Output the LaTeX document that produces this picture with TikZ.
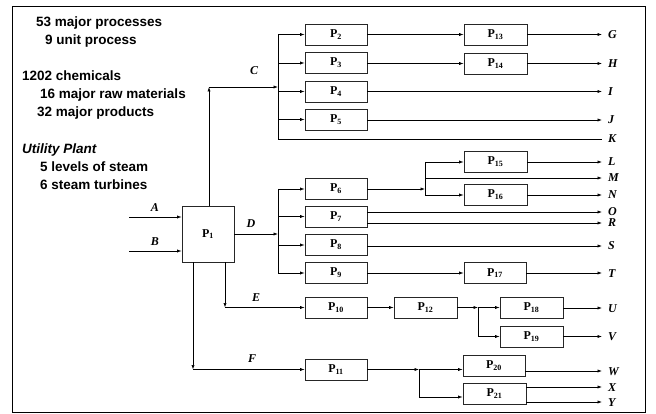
\documentclass[tikz,border=0pt]{standalone}
\usepackage{fontspec}
\setmainfont{Liberation Serif}
\newfontfamily\arialfont{Liberation Sans}
\usetikzlibrary{arrows.meta}
\tikzset{
  pbox/.style={draw=black!85, line width=0.7pt, minimum height=21pt, minimum width=62pt, inner sep=0pt, font=\bfseries\fontsize{12}{12}\selectfont},
  arr/.style={-{Latex[length=4.5pt,width=3.2pt]}, line width=0.7pt},
  ln/.style={line width=0.7pt},
  lab/.style={font=\bfseries\itshape\fontsize{12}{12}\selectfont, inner ysep=0pt, inner xsep=6pt, text height=8pt, text depth=0pt, anchor=west},
  flab/.style={font=\bfseries\itshape\fontsize{12}{12}\selectfont, inner sep=0pt},
  txt/.style={font=\arialfont\bfseries\fontsize{13.5}{14}\selectfont, anchor=west, inner sep=0pt, text height=10pt, text depth=0pt},
}
\begin{document}
\begin{tikzpicture}[x=1pt,y=-1pt]
\useasboundingbox (0,0) rectangle (656,414);
\draw[line width=1pt] (12.5,6.5) rectangle (645,412.5);

% left text
\node[txt] (t1) at (36,22) {53 major processes};
\node[txt] (t2) at (45,40) {9 unit process};
\node[txt] (t3) at (22,76) {1202 chemicals};
\node[txt] (t4) at (40,94) {16 major raw materials};
\node[txt] (t5) at (37,112) {32 major products};
\node[txt, font=\arialfont\bfseries\itshape\fontsize{13.5}{14}\selectfont] (t6) at (22,149) {Utility Plant};
\node[txt] (t7) at (40,167) {5 levels of steam};
\node[txt] (t8) at (40,185) {6 steam turbines};

% boxes
\node[pbox, minimum width=52pt, minimum height=56pt] (p1) at (208,234) {P\textsubscript{1}};
\node[pbox] (p2) at (336,34.5) {P\textsubscript{2}};
\node[pbox] (p3) at (336,63) {P\textsubscript{3}};
\node[pbox] (p4) at (336,91.5) {P\textsubscript{4}};
\node[pbox] (p5) at (336,119.5) {P\textsubscript{5}};
\node[pbox, minimum width=63pt] (p13) at (495.5,34.5) {P\textsubscript{13}};
\node[pbox, minimum width=63pt] (p14) at (495.5,63.5) {P\textsubscript{14}};
\node[pbox] (p6) at (336,189) {P\textsubscript{6}};
\node[pbox] (p7) at (336,216.5) {P\textsubscript{7}};
\node[pbox] (p8) at (336,245) {P\textsubscript{8}};
\node[pbox] (p9) at (336,273) {P\textsubscript{9}};
\node[pbox, minimum width=63pt] (p15) at (495.5,162) {P\textsubscript{15}};
\node[pbox, minimum width=63pt] (p16) at (495.5,195) {P\textsubscript{16}};
\node[pbox] (p17) at (495,273) {P\textsubscript{17}};
\node[pbox] (p10) at (336,307.5) {P\textsubscript{10}};
\node[pbox, minimum width=63pt] (p12) at (425.5,307.5) {P\textsubscript{12}};
\node[pbox, minimum width=63pt] (p18) at (531.5,308) {P\textsubscript{18}};
\node[pbox, minimum width=63pt] (p19) at (531.5,336.5) {P\textsubscript{19}};
\node[pbox] (p11) at (336,369.5) {P\textsubscript{11}};
\node[pbox] (p20) at (494,366) {P\textsubscript{20}};
\node[pbox, minimum width=63pt] (p21) at (494.5,393.5) {P\textsubscript{21}};

% output labels
\node[lab] (G) at (602,34.5) {G};
\node[lab] (H) at (602,63.5) {H};
\node[lab] (I) at (602,91.5) {I};
\node[lab] (J) at (602,120) {J};
\node[lab] (K) at (602,139) {K};
\node[lab] (L) at (602,162) {L};
\node[lab] (M) at (602,178) {M};
\node[lab] (N) at (602,195) {N};
\node[lab] (O) at (602,212) {O};
\node[lab] (R) at (602,223) {R};
\node[lab] (S) at (602,246) {S};
\node[lab] (T) at (602,273) {T};
\node[lab] (U) at (602,308) {U};
\node[lab] (V) at (602,336.5) {V};
\node[lab] (W) at (602,371) {W};
\node[lab] (X) at (602,387) {X};
\node[lab] (Y) at (602,402) {Y};

% stream labels
\node[flab] (lA) at (155,208) {A};
\node[flab] (lB) at (155,242) {B};
\node[flab] (lC) at (254,71) {C};
\node[flab] (lD) at (251,224) {D};
\node[flab] (lE) at (256,298) {E};
\node[flab] (lF) at (252,359) {F};

% inputs
\coordinate (a0) at (129,217);
\coordinate (b0) at (129,251);
\draw[arr] (a0) -- (a0 -| p1.west);
\draw[arr] (b0) -- (b0 -| p1.west);

% C
\coordinate (cc) at (209,87);
\coordinate (cb) at (278,87);
\draw[arr] (cc |- p1.north) -- (cc);
\draw[arr] (cc) -- (cb);
\coordinate (cbt) at (278,34.5);
\coordinate (cbb) at (278,139);
\draw[ln] (cbt) -- (cbb) -- (K.west);
\draw[arr] (cbt) -- (p2.west);
\draw[arr] (p3.west -| cbt) -- (p3.west);
\draw[arr] (p4.west -| cbt) -- (p4.west);
\draw[arr] (p5.west -| cbt) -- (p5.west);
\draw[arr] (p2.east) -- (p13.west);
\draw[arr] (p3.east |- p14.west) -- (p14.west);
\draw[arr] (p13.east) -- (G.west);
\draw[arr] (p14.east) -- (H.west);
\draw[arr] (p4.east) -- (I.west);
\draw[arr] (J.west -| p5.east) -- (J.west);

% D
\coordinate (dj) at (278,234);
\draw[arr] (p1.east) -- (dj);
\draw[ln] (p6.west -| dj) -- (p9.west -| dj);
\draw[arr] (p6.west -| dj) -- (p6.west);
\draw[arr] (p7.west -| dj) -- (p7.west);
\draw[arr] (p8.west -| dj) -- (p8.west);
\draw[arr] (p9.west -| dj) -- (p9.west);
\coordinate (mj) at (425,189);
\draw[arr] (p6.east) -- (mj);
\draw[ln] (p15.west -| mj) -- (p16.west -| mj);
\draw[arr] (p15.west -| mj) -- (p15.west);
\draw[arr] (M.west -| mj) -- (M.west);
\draw[arr] (p16.west -| mj) -- (p16.west);
\draw[arr] (p15.east) -- (L.west);
\draw[arr] (p16.east) -- (N.west);
\draw[arr] (O.west -| p7.east) -- (O.west);
\draw[arr] (R.west -| p7.east) -- (R.west);
\draw[arr] (S.west -| p8.east) -- (S.west);
\draw[arr] (p9.east) -- (p17.west);
\draw[arr] (p17.east) -- (T.west);

% E
\coordinate (ej) at (225,307.5);
\draw[arr] (ej |- p1.south) -- (ej);
\draw[arr] (ej) -- (p10.west);
\draw[arr] (p10.east) -- (p12.west);
\coordinate (uj) at (478,307.5);
\draw[arr] (p12.east) -- (uj);
\draw[arr] (uj) -- (uj -| p18.west);
\draw[ln] (uj) -- (uj |- p19.west);
\draw[arr] (uj |- p19.west) -- (p19.west);
\draw[arr] (p18.east) -- (U.west);
\draw[arr] (p19.east) -- (V.west);

% F
\coordinate (fj) at (193,369.5);
\draw[arr] (fj |- p1.south) -- (fj);
\draw[arr] (fj) -- (p11.west);
\coordinate (wj) at (419,369.5);
\coordinate (xj) at (419,397);
\draw[arr] (p11.east) -- (wj);
\draw[arr] (wj) -- (wj -| p20.west);
\draw[ln] (wj) -- (xj);
\draw[arr] (xj) -- (xj -| p21.west);
\draw[arr] (W.west -| p20.east) -- (W.west);
\draw[arr] (X.west -| p21.east) -- (X.west);
\draw[arr] (Y.west -| p21.east) -- (Y.west);
\end{tikzpicture}
\end{document}
